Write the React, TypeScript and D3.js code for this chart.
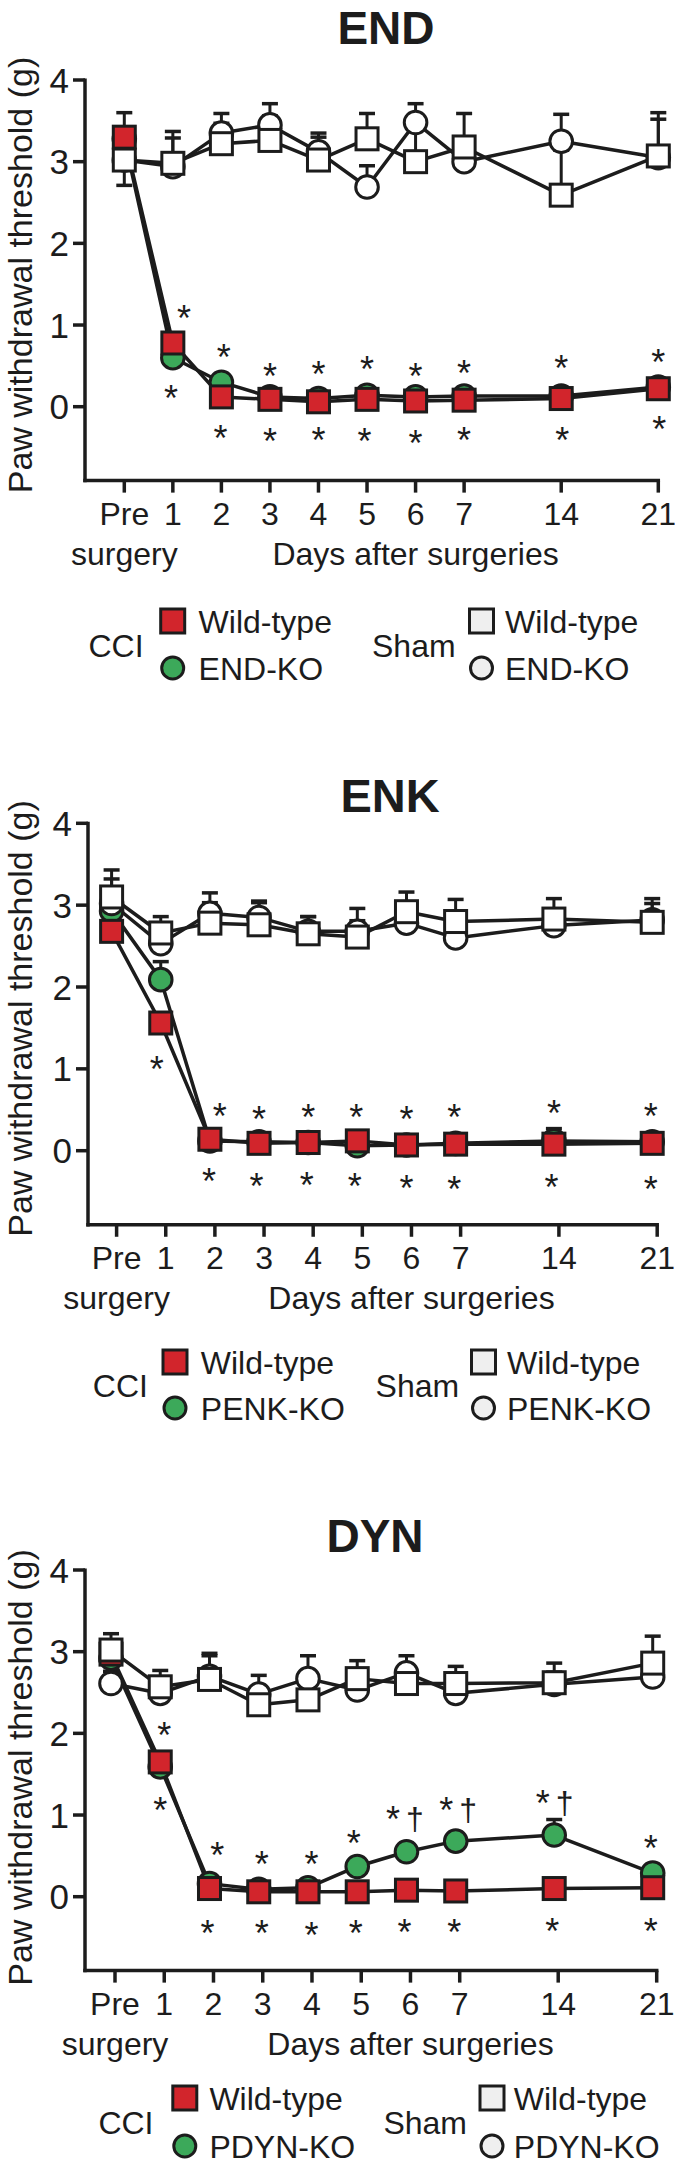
import React from 'react';
import * as d3 from 'd3';

// ---------- shared categories ----------
const dayLabels = ['Pre', '1', '2', '3', '4', '5', '6', '7', '14', '21'];
const dayPos = [0, 1, 2, 3, 4, 5, 6, 7, 9, 11];
const yTicks = [0, 1, 2, 3, 4];

// ---------- END ----------
const endCciWT = [3.3, 0.78, 0.12, 0.09, 0.06, 0.09, 0.07, 0.08, 0.1, 0.22];
const endCciWTErr = [0.3, 0.08, 0.04, 0.03, 0.03, 0.03, 0.03, 0.03, 0.03, 0.04];
const endCciKO = [3.28, 0.6, 0.3, 0.12, 0.1, 0.14, 0.12, 0.13, 0.13, 0.24];
const endCciKOErr = [0.05, 0.05, 0.04, 0.03, 0.03, 0.03, 0.03, 0.03, 0.03, 0.04];
const endShamWT = [3.02, 2.98, 3.22, 3.26, 3.02, 3.28, 3.0, 3.18, 2.59, 3.07];
const endShamWTErr = [-0.31, 0.39, 0.25, 0.3, 0.28, 0.31, 0.4, 0.41, 0.55, 0.53];
const endShamKO = [3.02, 2.94, 3.35, 3.45, 3.12, 2.69, 3.48, 3.0, 3.25, 3.05];
const endShamKOErr = [0.2, 0.35, 0.24, 0.26, 0.23, 0.26, 0.23, 0.2, 0.33, 0.47];
const endMarks: [number, number, string][] = [
  [1.23, 1.18, '*'], [0.96, 0.2, '*'],
  [2.05, 0.7, '*'], [1.98, -0.29, '*'],
  [3.0, 0.47, '*'], [3.0, -0.33, '*'],
  [4.0, 0.49, '*'], [4.0, -0.31, '*'],
  [5.0, 0.55, '*'], [4.95, -0.33, '*'],
  [6.0, 0.47, '*'], [6.0, -0.35, '*'],
  [7.0, 0.51, '*'], [7.0, -0.31, '*'],
  [9.0, 0.57, '*'], [9.02, -0.31, '*'],
  [11.0, 0.64, '*'], [11.02, -0.18, '*'],
];

// ---------- ENK ----------
const enkCciWT = [2.68, 1.56, 0.14, 0.09, 0.1, 0.12, 0.07, 0.08, 0.08, 0.09];
const enkCciWTErr = [0.05, 0.07, 0.03, 0.03, 0.03, 0.03, 0.03, 0.03, 0.03, 0.03];
const enkCciKO = [2.93, 2.09, 0.12, 0.11, 0.1, 0.06, 0.07, 0.09, 0.12, 0.11];
const enkCciKOErr = [0.05, 0.22, 0.03, 0.03, 0.03, 0.03, 0.03, 0.03, 0.15, 0.03];
const enkShamWT = [3.1, 2.66, 2.78, 2.76, 2.65, 2.61, 2.92, 2.8, 2.83, 2.79];
const enkShamWTErr = [0.33, 0.2, 0.25, 0.27, 0.21, 0.2, 0.24, 0.27, 0.25, 0.29];
const enkShamKO = [3.02, 2.53, 2.9, 2.85, 2.68, 2.68, 2.78, 2.6, 2.75, 2.82];
const enkShamKOErr = [0.3, 0.2, 0.25, 0.2, 0.18, 0.28, 0.2, 0.2, 0.2, 0.2];
const enkMarks: [number, number, string][] = [
  [0.92, 1.09, '*'],
  [2.2, 0.52, '*'], [1.98, -0.28, '*'],
  [3.0, 0.48, '*'], [2.95, -0.34, '*'],
  [4.0, 0.5, '*'], [3.97, -0.33, '*'],
  [4.98, 0.5, '*'], [4.95, -0.34, '*'],
  [6.0, 0.48, '*'], [6.0, -0.36, '*'],
  [6.97, 0.5, '*'], [6.97, -0.37, '*'],
  [9.0, 0.56, '*'], [8.95, -0.35, '*'],
  [10.97, 0.52, '*'], [10.97, -0.37, '*'],
];

// ---------- DYN ----------
const dynCciWT = [2.97, 1.65, 0.1, 0.06, 0.06, 0.06, 0.08, 0.07, 0.1, 0.11];
const dynCciWTErr = [0.05, 0.06, 0.03, 0.03, 0.03, 0.03, 0.03, 0.03, 0.03, 0.03];
const dynCciKO = [2.92, 1.59, 0.16, 0.09, 0.11, 0.37, 0.55, 0.68, 0.755, 0.29];
const dynCciKOErr = [0.05, 0.05, 0.04, 0.03, 0.04, 0.05, 0.06, 0.06, 0.19, 0.05];
const dynShamWT = [3.02, 2.57, 2.66, 2.35, 2.41, 2.67, 2.61, 2.61, 2.62, 2.86];
const dynShamWTErr = [0.2, 0.2, 0.32, 0.15, 0.28, 0.22, 0.2, 0.21, 0.24, 0.33];
const dynShamKO = [2.61, 2.49, 2.7, 2.48, 2.67, 2.53, 2.74, 2.49, 2.6, 2.69];
const dynShamKOErr = [0.15, 0.15, 0.25, 0.23, 0.28, 0.15, 0.21, 0.15, 0.15, 0.15];
const dynMarks: [number, number, string][] = [
  [1.08, 2.08, '*'], [1.0, 1.16, '*'],
  [2.16, 0.61, '*'], [1.96, -0.35, '*'],
  [3.06, 0.49, '*'], [3.06, -0.35, '*'],
  [4.07, 0.49, '*'], [4.07, -0.37, '*'],
  [4.93, 0.755, '*'], [4.97, -0.35, '*'],
  [5.97, 1.04, '*†'], [5.96, -0.34, '*'],
  [7.05, 1.16, '*†'], [6.97, -0.34, '*'],
  [9.01, 1.245, '*†'], [8.96, -0.33, '*'],
  [10.96, 0.69, '*'], [10.96, -0.33, '*'],
];

// ---------- styles ----------
const FONT = '"Liberation Sans", Arial, Helvetica, sans-serif';
const RED = '#d2252c';
const GREEN = '#3ca95a';
const INK = '#1c1c1c';
const LEG_FILL = '#efefef';
const AST = 36;

type Series = { values: number[]; err: number[]; shape: 'square' | 'circle'; fill: string };

const panels = [
  {
    title: 'END', ko: 'END-KO', marks: endMarks,
    series: [
      { values: endCciKO, err: endCciKOErr, shape: 'circle', fill: GREEN },
      { values: endCciWT, err: endCciWTErr, shape: 'square', fill: RED },
      { values: endShamKO, err: endShamKOErr, shape: 'circle', fill: '#fff' },
      { values: endShamWT, err: endShamWTErr, shape: 'square', fill: '#fff' },
    ] as Series[],
    lay: {
      axisX: 85, xPre: 124.3, x21: 658.3, shift: 0, y0: 406.7, y4: 80,
      titleX: 386, titleY: 43.5, titleSize: 46, labelY: 275,
      leg: { cciX: 88.5, symX: 172.7, textX: 198.6, shamX: 372, shamSymX: 481.5, shamTextX: 505, row1: 633, row2: 680 },
    },
  },
  {
    title: 'ENK', ko: 'PENK-KO', marks: enkMarks,
    series: [
      { values: enkCciKO, err: enkCciKOErr, shape: 'circle', fill: GREEN },
      { values: enkCciWT, err: enkCciWTErr, shape: 'square', fill: RED },
      { values: enkShamKO, err: enkShamKOErr, shape: 'circle', fill: '#fff' },
      { values: enkShamWT, err: enkShamWTErr, shape: 'square', fill: '#fff' },
    ] as Series[],
    lay: {
      axisX: 88, xPre: 116.6, x21: 657.2, shift: -5, y0: 1150.7, y4: 823.3,
      titleX: 390, titleY: 811.7, titleSize: 47, labelY: 1018.5,
      leg: { cciX: 92.8, symX: 175, textX: 200.8, shamX: 375.6, shamSymX: 483.5, shamTextX: 507, row1: 1374, row2: 1420 },
    },
  },
  {
    title: 'DYN', ko: 'PDYN-KO', marks: dynMarks,
    series: [
      { values: dynCciKO, err: dynCciKOErr, shape: 'circle', fill: GREEN },
      { values: dynCciWT, err: dynCciWTErr, shape: 'square', fill: RED },
      { values: dynShamKO, err: dynShamKOErr, shape: 'circle', fill: '#fff' },
      { values: dynShamWT, err: dynShamWTErr, shape: 'square', fill: '#fff' },
    ] as Series[],
    lay: {
      axisX: 85, xPre: 115, x21: 656.7, shift: -4, y0: 1896.7, y4: 1570,
      titleX: 375, titleY: 1552, titleSize: 46, labelY: 1767.5,
      leg: { cciX: 98.4, symX: 184.8, textX: 209.4, shamX: 383.4, shamSymX: 492, shamTextX: 513.8, row1: 2110, row2: 2158 },
    },
  },
];

const SQ = 22;
const R = 11.3;
const MSTROKE = 3;

function Marker({ shape, cx, cy, fill }: { shape: string; cx: number; cy: number; fill: string }) {
  if (shape === 'square') {
    return <rect x={cx - SQ / 2} y={cy - SQ / 2} width={SQ} height={SQ} fill={fill} stroke={INK} strokeWidth={MSTROKE} />;
  }
  return <circle cx={cx} cy={cy} r={R} fill={fill} stroke={INK} strokeWidth={MSTROKE} />;
}

function Mark({ x, y, t }: { x: number; y: number; t: string }) {
  const base = y + AST * 0.575;
  if (t.length > 1) {
    return (
      <text x={x} y={base} textAnchor="middle" fontFamily={FONT} fontSize={AST} fill={INK}>
        <tspan>{t[0]}</tspan>
        <tspan fontSize={32} dx={6} dy={-2}>{t.slice(1)}</tspan>
      </text>
    );
  }
  return (
    <text x={x} y={base} textAnchor="middle" fontFamily={FONT} fontSize={AST} fill={INK}>
      {t}
    </text>
  );
}

function Panel({ p }: { p: (typeof panels)[number] }) {
  const L = p.lay;
  const x = d3.scaleLinear().domain([0, 11]).range([L.xPre, L.x21]);
  const y = d3.scaleLinear().domain([0, 4]).range([L.y0, L.y4]);
  const px = (i: number) => x(i) + L.shift;
  const axisY = y(-0.905);
  const line = d3
    .line<number>()
    .x((_, i) => px(dayPos[i]))
    .y((d) => y(d));

  return (
    <g>
      <text x={L.titleX} y={L.titleY} textAnchor="middle" fontFamily={FONT} fontWeight="bold" fontSize={L.titleSize} fill={INK}>
        {p.title}
      </text>
      <text
        transform={`translate(32,${L.labelY}) rotate(-90)`}
        textAnchor="middle"
        fontFamily={FONT}
        fontSize={34}
        fill={INK}
      >
        Paw withdrawal threshold (g)
      </text>
      <line x1={L.axisX} x2={L.axisX} y1={y(4) - 1.5} y2={axisY + 1.75} stroke={INK} strokeWidth={3.5} />
      <line x1={L.axisX - 1.75} x2={x(11) + 1.75} y1={axisY} y2={axisY} stroke={INK} strokeWidth={3.5} />
      {yTicks.map((t) => (
        <g key={t}>
          <line x1={L.axisX - 12} x2={L.axisX} y1={y(t)} y2={y(t)} stroke={INK} strokeWidth={3.5} />
          <text x={L.axisX - 16} y={y(t) + 12.5} textAnchor="end" fontFamily={FONT} fontSize={35} fill={INK}>
            {t}
          </text>
        </g>
      ))}
      {dayPos.map((d, i) => (
        <g key={i}>
          <line x1={x(d)} x2={x(d)} y1={axisY} y2={axisY + 12} stroke={INK} strokeWidth={3.5} />
          <text x={x(d)} y={axisY + 44.5} textAnchor="middle" fontFamily={FONT} fontSize={32} fill={INK}>
            {dayLabels[i]}
          </text>
        </g>
      ))}
      <text x={x(0)} y={axisY + 84.5} textAnchor="middle" fontFamily={FONT} fontSize={32} fill={INK}>
        surgery
      </text>
      <text x={x(6)} y={axisY + 84.5} textAnchor="middle" fontFamily={FONT} fontSize={32} fill={INK}>
        Days after surgeries
      </text>

      {p.series.map((s, si) =>
        s.values.map((v, i) => {
          const e = s.err[i];
          const cx = px(dayPos[i]);
          const ye = y(v + e);
          return (
            <g key={`e${si}-${i}`}>
              <line x1={cx} x2={cx} y1={y(v)} y2={ye} stroke={INK} strokeWidth={3} />
              <line x1={cx - 8} x2={cx + 8} y1={ye} y2={ye} stroke={INK} strokeWidth={3.5} />
            </g>
          );
        })
      )}
      {p.series.map((s, si) => (
        <path key={`l${si}`} d={line(s.values) || ''} fill="none" stroke={INK} strokeWidth={3.5} strokeLinejoin="round" />
      ))}
      {p.series.map((s, si) =>
        s.values.map((v, i) => <Marker key={`m${si}-${i}`} shape={s.shape} cx={px(dayPos[i])} cy={y(v)} fill={s.fill} />)
      )}
      {p.marks.map(([xi, v, t], i) => (
        <Mark key={`a${i}`} x={px(xi)} y={y(v)} t={t} />
      ))}

      <Legend p={p} />
    </g>
  );
}

function Legend({ p }: { p: (typeof panels)[number] }) {
  const g = p.lay.leg;
  const mid = (g.row1 + g.row2) / 2;
  const tx = { fontFamily: FONT, fontSize: 32, fill: INK } as const;
  return (
    <g>
      <text x={g.cciX} y={mid} {...tx}>CCI</text>
      <rect x={g.symX - 12} y={g.row1 - 24} width={24} height={24} fill={RED} stroke={INK} strokeWidth={3} />
      <text x={g.textX} y={g.row1} {...tx}>Wild-type</text>
      <circle cx={g.symX} cy={g.row2 - 12} r={11} fill={GREEN} stroke={INK} strokeWidth={3} />
      <text x={g.textX} y={g.row2} {...tx}>{p.ko}</text>

      <text x={g.shamX} y={mid} {...tx}>Sham</text>
      <rect x={g.shamSymX - 12} y={g.row1 - 24} width={24} height={24} fill={LEG_FILL} stroke={INK} strokeWidth={3} />
      <text x={g.shamTextX} y={g.row1} {...tx}>Wild-type</text>
      <circle cx={g.shamSymX} cy={g.row2 - 12} r={11} fill={LEG_FILL} stroke={INK} strokeWidth={3} />
      <text x={g.shamTextX} y={g.row2} {...tx}>{p.ko}</text>
    </g>
  );
}

export default function App() {
  return (
    <svg
      width={675}
      height={2171}
      viewBox="0 0 675 2171"
      style={{ position: 'absolute', left: 0, top: 0, background: '#fff' }}
    >
      <rect x={0} y={0} width={675} height={2171} fill="#fff" />
      {panels.map((p) => (
        <Panel key={p.title} p={p} />
      ))}
    </svg>
  );
}
